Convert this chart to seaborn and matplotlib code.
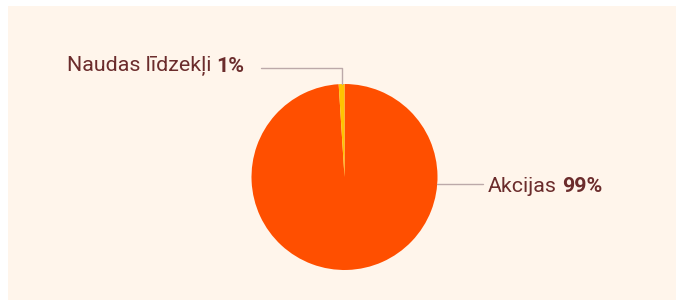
import numpy as np
import matplotlib
matplotlib.use("Agg")
import matplotlib.pyplot as plt
from matplotlib.patches import Rectangle
import seaborn as sns

# chart data
labels = ["Akcijas", "Naudas līdzekļi"]
shares = [99, 1]
pct_text = ["99%", "1%"]
colors = ["#FF4F00", "#FFC400"]

sns.set_theme(style="white")
plt.rcParams["font.family"] = ["Roboto", "DejaVu Sans"]

W, H = 678, 303
fig = plt.figure(figsize=(W / 100, H / 100), dpi=100, facecolor="white")
ax = fig.add_axes([0, 0, 1, 1])

# cream panel
ax.add_patch(Rectangle((8, 3), 668, 294, facecolor="#FFF5EB", edgecolor="none", zorder=0))

cx, cy, r = 344.5, H - 177, 93
wedges, _ = ax.pie(shares, colors=colors, startangle=90, counterclock=False,
                   center=(cx, cy), radius=r, frame=True,
                   wedgeprops=dict(linewidth=0))
ax.set_xlim(0, W)
ax.set_ylim(0, H)
ax.set_aspect("equal")
ax.axis("off")

text_color = "#6B2C2C"
line_color = "#BCA9A9"
fs = 15.4

# small slice: leader goes up then left, label right-aligned
w = wedges[1]
mid = np.deg2rad((w.theta1 + w.theta2) / 2)
px, py = cx + r * np.cos(mid), cy + r * np.sin(mid)
ly = H - 67.5
ax.plot([px, px, 261], [py, ly, ly], color=line_color, lw=1, zorder=1)
b1 = ax.text(244, H - 72.5, pct_text[1], ha="right", va="baseline", fontsize=fs,
             fontweight="bold", color=text_color)
ax.annotate(labels[1], xy=(0, 0), xycoords=b1, xytext=(-3.5, 0), textcoords="offset points",
            ha="right", va="bottom", fontsize=fs, color=text_color)

# big slice: horizontal leader to the right
ry = H - 184
ex = cx + np.sqrt(r ** 2 - (cy - ry) ** 2)
ax.plot([ex, 483], [ry, ry], color=line_color, lw=1, zorder=1)
t2 = ax.text(488, H - 192, labels[0], ha="left", va="baseline", fontsize=fs, color=text_color)
ax.annotate(pct_text[0], xy=(1, 0), xycoords=t2, xytext=(3.5, 0), textcoords="offset points",
            ha="left", va="bottom", fontsize=fs, fontweight="bold", color=text_color)

fig.savefig("out.png", dpi=100, facecolor="white")
